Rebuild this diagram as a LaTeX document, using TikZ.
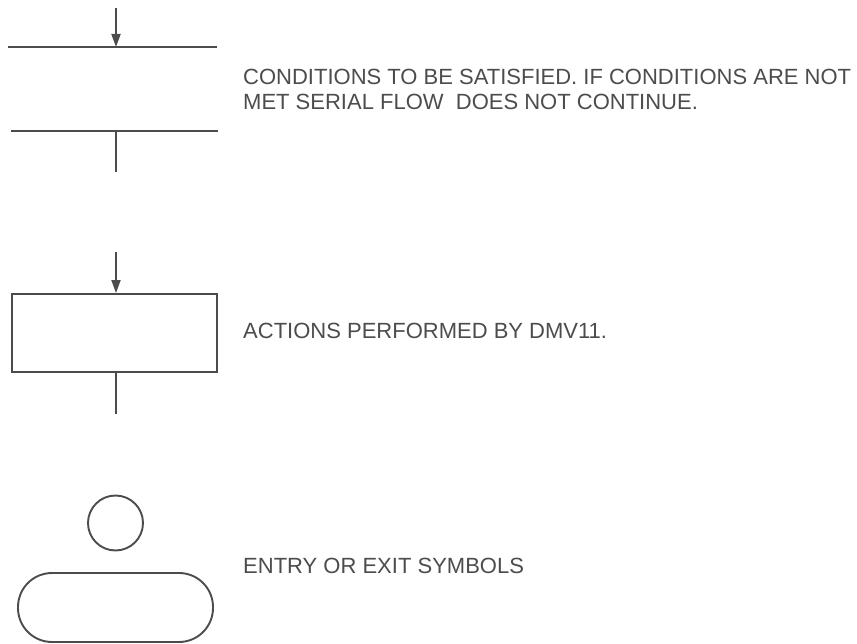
\documentclass[tikz,border=0pt]{standalone}
\usepackage{fontspec}
\setmainfont{Liberation Sans}
\usetikzlibrary{arrows.meta}
\definecolor{ink}{gray}{0.3}
\tikzset{
  ln/.style={draw=ink, line width=1.9pt},
  arr/.style={ln, -{Triangle[width=9pt,length=13pt]}},
  lbl/.style={anchor=base west, inner sep=0pt, text=ink, font=\fontsize{22}{25}\selectfont, align=left}
}
\begin{document}
\begin{tikzpicture}[x=1pt,y=-1pt]
\useasboundingbox (0,0) rectangle (857,644);
% conditions symbol
\coordinate (c0) at (116,8);
\coordinate (c1) at (116,47);
\coordinate (c2) at (116,131);
\coordinate (c3) at (116,172);
\coordinate (l1a) at (8,47);
\coordinate (l1b) at (217,47);
\coordinate (l2a) at (11,131);
\coordinate (l2b) at (218,131);
\draw[ln] (l1a) -- (l1b);
\draw[ln] (l2a) -- (l2b);
\draw[arr] (c0) -- (c1);
\draw[ln] (c2) -- (c3);
\node[lbl] (t1) at (243,85) {CONDITIONS TO BE SATISFIED. IF CONDITIONS ARE NOT};
\node[lbl] (t2) at (243,110) {MET SERIAL FLOW\ \ DOES NOT CONTINUE.};
% action box
\node[ln, draw, minimum width=205pt, minimum height=78pt, inner sep=0pt] (box) at (114.5,333) {};
\coordinate (b0) at (116,252);
\coordinate (b3) at (116,414);
\draw[arr] (b0) -- (box.north -| b0);
\draw[ln] (box.south -| b3) -- (b3);
\node[lbl] (t3) at (243,339) {ACTIONS PERFORMED BY DMV11.};
% entry/exit symbols
\node[ln, draw, circle, minimum size=55pt, inner sep=0pt] (circ) at (115.5,523) {};
\node[ln, draw, rounded corners=34pt, minimum width=195pt, minimum height=69pt, inner sep=0pt] (stad) at (115.5,607.5) {};
\node[lbl] (t4) at (243,573) {ENTRY OR EXIT SYMBOLS};
\end{tikzpicture}
\end{document}
